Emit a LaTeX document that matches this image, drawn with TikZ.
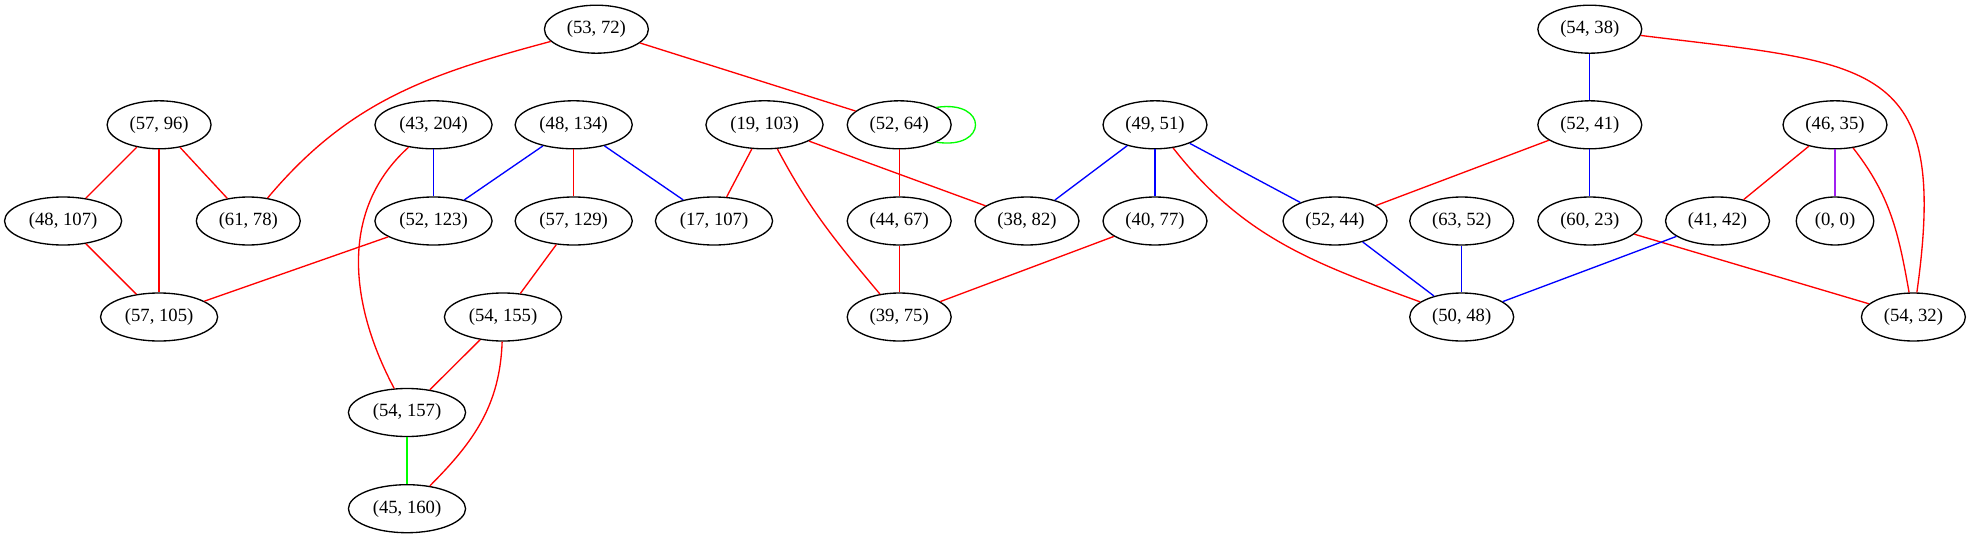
\documentclass[tikz,border=0pt]{standalone}
\usepackage{fontspec}
\setmainfont{Liberation Serif}
\usepackage{tikz}
\usetikzlibrary{shapes.geometric}
\definecolor{gvpurple}{HTML}{A020F0}

\begin{document}
\begin{tikzpicture} [x = 0.75pt, y = -0.75pt, line width = 1pt,
  pair/.style = {draw, ellipse, inner xsep = 5.4pt, inner ysep = 2pt, minimum height = 36pt, font = \fontsize{14pt}{16pt}\selectfont},
  redline/.style = {red}, blueline/.style = {blue}, greenline/.style = {green}, purpleline/.style = {gvpurple}]
\useasboundingbox (0,0) rectangle (1971,539);
\node[pair](a1) at (596.4,29.2){(53, 72)};
\node[pair](a2) at (1589.8,29.2){(54, 38)};
\node[pair](b1) at (159.1,124.8){(57, 96)};
\node[pair](b2) at (433.5,124.8){(43, 204)};
\node[pair](b3) at (573.7,124.8){(48, 134)};
\node[pair](b4) at (764.5,124.8){(19, 103)};
\node[pair](b5) at (899.2,124.8){(52, 64)};
\node[pair](b6) at (1155,124.8){(49, 51)};
\node[pair](b7) at (1589.8,124.8){(52, 41)};
\node[pair](b8) at (1835,124.8){(46, 35)};
\node[pair](c1) at (63.1,221){(48, 107)};
\node[pair](c2) at (248.3,221){(61, 78)};
\node[pair](c3) at (433.5,221){(52, 123)};
\node[pair](c4) at (573.7,221){(57, 129)};
\node[pair](c5) at (714,221){(17, 107)};
\node[pair](c6) at (899.2,221){(44, 67)};
\node[pair](c7) at (1027,221){(38, 82)};
\node[pair](c8) at (1155,221){(40, 77)};
\node[pair](c9) at (1335,221){(52, 44)};
\node[pair](c10) at (1461.7,221){(63, 52)};
\node[pair](c11) at (1589.8,221){(60, 23)};
\node[pair](c12) at (1717.5,221){(41, 42)};
\node[pair](c13) at (1835,221){(0, 0)};
\node[pair](d1) at (159.1,317){(57, 105)};
\node[pair](d2) at (503,317){(54, 155)};
\node[pair](d3) at (899.2,317){(39, 75)};
\node[pair](d4) at (1461.7,317){(50, 48)};
\node[pair](d5) at (1913.4,317){(54, 32)};
\node[pair](e1) at (407,412.5){(54, 157)};
\node[pair](f1) at (407,508.7){(45, 160)};
\draw[redline] (a1) to[out = 195, in = 50] (c2);
\draw[redline] (a1) -- (b5);
\draw[redline] (b1) -- (c1);
\draw[redline] (b1) -- (d1);
\draw[redline] (b1) -- (c2);
\draw[redline] (c1) -- (d1);
\draw[blueline] (b2) -- (c3);
\draw[redline] (b2) to[out = 222, in = 118] (e1);
\draw[blueline] (b3) -- (c3);
\draw[redline] (b3) -- (c4);
\draw[blueline] (b3) -- (c5);
\draw[redline] (c3) -- (d1);
\draw[redline] (c4) -- (d2);
\draw[redline] (d2) -- (e1);
\draw[redline] (d2) to[out = 268, in = 45] (f1);
\draw[greenline] (e1) -- (f1);
\draw[redline] (b4) -- (c5);
\draw[redline] (b4) to[out = -62, in = 130] (d3);
\draw[redline] (b4) -- (c7);
\draw[greenline] (b5.25) .. controls +(39pt,6pt) and +(39pt,-6pt) .. (b5.-25);
\draw[redline] (b5) -- (c6);
\draw[redline] (c6) -- (d3);
\draw[blueline] (b6) -- (c7);
\draw[blueline] (b6) -- (c8);
\draw[blueline] (b6) -- (c9);
\draw[redline] (b6) to[out = -52, in = 160] (d4);
\draw[redline] (c8) -- (d3);
\draw[blueline] (a2) -- (b7);
\draw[redline] (a2) to[out = -7, in = 82, looseness = 1.6] (d5);
\draw[redline] (b7) -- (c9);
\draw[blueline] (b7) -- (c11);
\draw[redline] (b8) -- (c12);
\draw[purpleline] (b8) -- (c13);
\draw[redline] (b8) to[out = -52, in = 100] (d5);
\draw[blueline] (c9) -- (d4);
\draw[blueline] (c10) -- (d4);
\draw[redline] (c11) -- (d5);
\draw[blueline] (c12) -- (d4);
\end{tikzpicture}
\end{document}
